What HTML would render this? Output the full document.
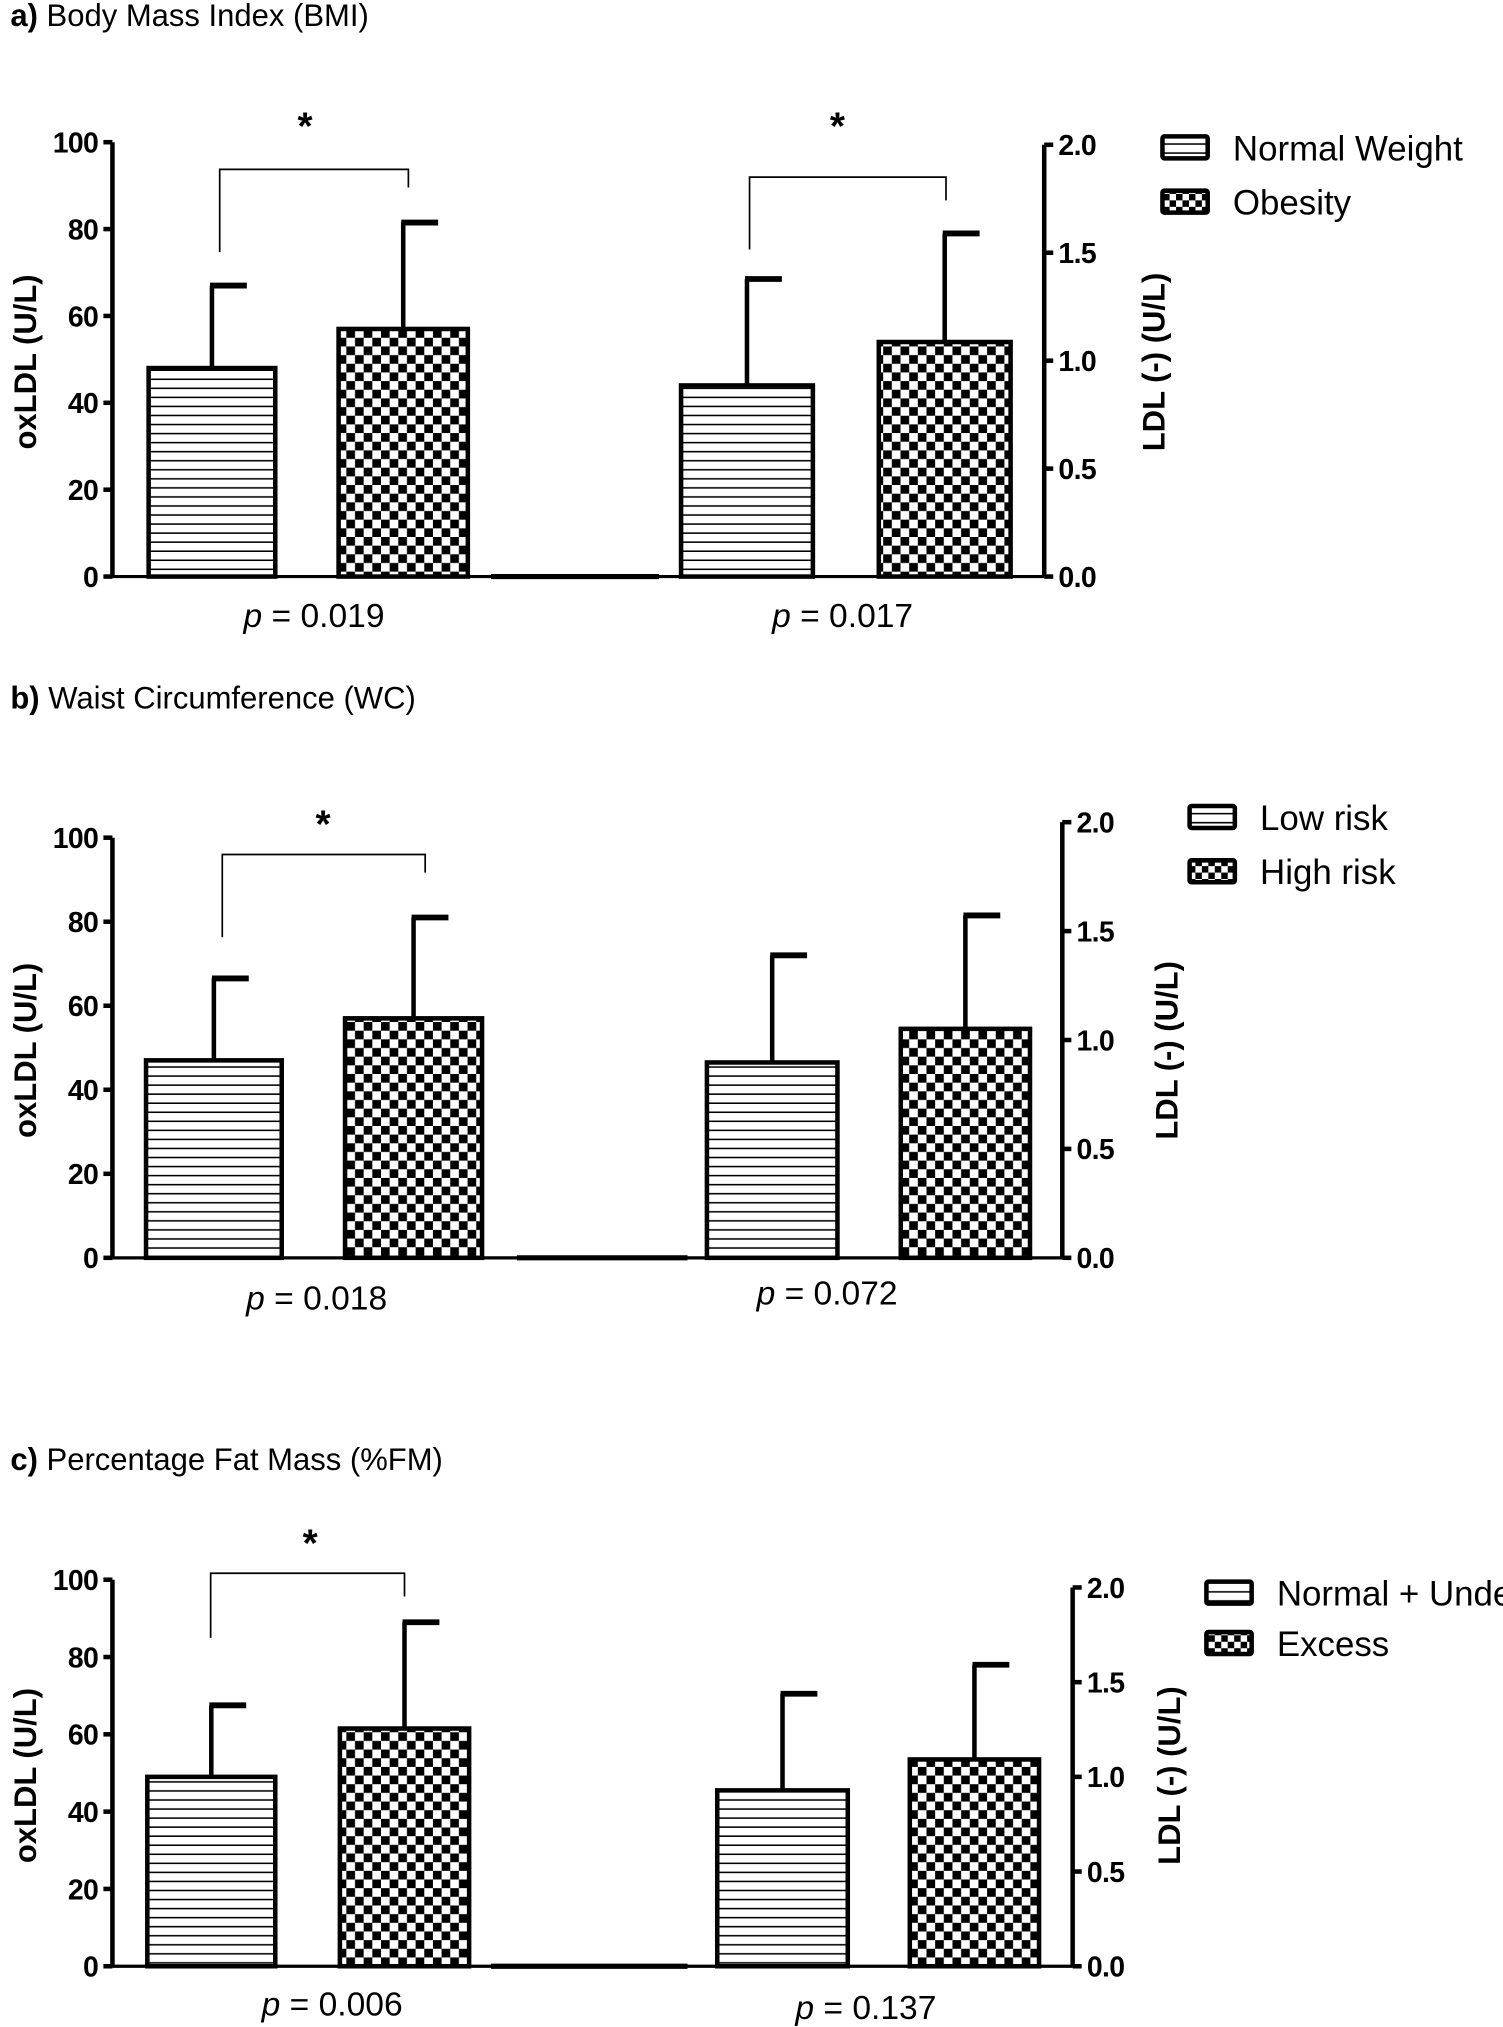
<!DOCTYPE html>
<html><head><meta charset="utf-8"><style>
html,body{margin:0;padding:0;background:#fff}
svg{display:block}
text{font-family:"Liberation Sans",Arial,sans-serif;fill:#000}
</style></head><body>
<svg id="fig" width="1503" height="2027" viewBox="0 0 1163 1568" preserveAspectRatio="none" xmlns="http://www.w3.org/2000/svg">
<defs>
<pattern id="stripes" patternUnits="userSpaceOnUse" width="8" height="7"><rect width="8" height="7" fill="#fff"/><rect y="5.8" width="8" height="1.2" fill="#000"/></pattern>
<pattern id="checks" patternUnits="userSpaceOnUse" width="13.4" height="13.4"><rect width="13.4" height="13.4" fill="#fff"/><rect width="6.7" height="6.7" fill="#000"/><rect x="6.7" y="6.7" width="6.7" height="6.7" fill="#000"/></pattern>
<pattern id="checksL" patternUnits="userSpaceOnUse" width="10" height="10"><rect width="10" height="10" fill="#fff"/><rect width="5" height="5" fill="#000"/><rect x="5" y="5" width="5" height="5" fill="#000"/></pattern>
</defs>
</svg>
<script>
// Panel data (oxLDL scale 0-100; right axis LDL(-) 0-2.0)
const titlesBold = ['a)', 'b)', 'c)'];
const titlesText = ['Body Mass Index (BMI)', 'Waist Circumference (WC)', 'Percentage Fat Mass (%FM)'];
const legendA = ['Normal Weight', 'Low risk', 'Normal + Under'];
const legendB = ['Obesity', 'High risk', 'Excess'];
const pLabels = [['0.019', '0.017'], ['0.018', '0.072'], ['0.006', '0.137']];
const meansA = [[48, 57], [47, 57], [49, 61.5]];
const meansB = [[44, 54], [46.5, 54.5], [45.5, 53.5]];
const errTopsA = [[67, 81.5], [66.5, 81], [67.5, 89]];
const errTopsB = [[68.5, 79], [72, 81.5], [70.5, 78]];
const sigA = [true, true, true];
const sigB = [true, false, false];
const leftTicks = [0, 20, 40, 60, 80, 100];
const rightTicks = [0.0, 0.5, 1.0, 1.5, 2.0];

// layout (not data)
const L = [
 {title:12, ax:87, y100:110, y0:446, rx:808, r2:112, bars:[[115,213],[262,362],[527,629],[680,782]], mid:[380,510],
  br:[{x1:170,x2:316,top:131,l:195,r:145,sx:236,sy:108},{x1:580,x2:732,top:137,l:193,r:155,sx:648,sy:108}],
  leg:[898,114,156], p:[[243,476],[652,476]], lab:[20,893]},
 {title:540, ax:87, y100:648, y0:973, rx:822, r2:636, bars:[[113,218],[267,373],[547,648],[697,797]], mid:[400,532],
  br:[{x1:172,x2:329,top:661,l:725,r:675,sx:250,sy:648}],
  leg:[919,632,674], p:[[245,1004],[640,1000]], lab:[20,903]},
 {title:1129, ax:87, y100:1222, y0:1521, rx:830, r2:1228, bars:[[114,213],[263,363],[555,656],[704,804]], mid:[380,532],
  br:[{x1:163,x2:313,top:1217,l:1267,r:1235,sx:240,sy:1204}],
  leg:[932,1232,1271], p:[[257,1550],[670,1553]], lab:[20,905]}
];

const svg = document.getElementById('fig');
const NS = 'http://www.w3.org/2000/svg';
function mk(tag, attrs, parent){const e=document.createElementNS(NS,tag);for(const k in attrs)e.setAttribute(k,attrs[k]);(parent||svg).appendChild(e);return e;}

L.forEach((g, i) => {
  const grp = mk('g', {});
  
  
  const yL = v => g.y0 - (v / 100) * (g.y0 - g.y100);
  const yR = v => g.y0 - (v / 2) * (g.y0 - g.r2);

  const t = mk('text', {x:8, y:g.title+8, 'font-size':24}, grp);
  
  
  const tb = mk('tspan', {'font-weight':'bold'}, t); tb.textContent = titlesBold[i] + ' ';
  const tt = mk('tspan', {}, t); tt.textContent = titlesText[i];

  const la = mk('line', {x1:g.ax, y1:g.y100, x2:g.ax, y2:g.y0, stroke:'#000', 'stroke-width':3.5}, grp);
  
  
  leftTicks.forEach(v => {
    mk('line', {x1:g.ax-7, y1:yL(v), x2:g.ax, y2:yL(v), stroke:'#000', 'stroke-width':3.5}, grp);
    const tl = mk('text', {x:g.ax-11, y:yL(v)+8, 'font-size':22, 'font-weight':'bold', 'text-anchor':'end', 'letter-spacing':-0.5}, grp);
    
    
    tl.textContent = v;
  });
  const ra = mk('line', {x1:g.rx, y1:g.r2, x2:g.rx, y2:g.y0, stroke:'#000', 'stroke-width':3.5}, grp);
  
  
  rightTicks.forEach(v => {
    mk('line', {x1:g.rx, y1:yR(v), x2:g.rx+7, y2:yR(v), stroke:'#000', 'stroke-width':3.5}, grp);
    const tr = mk('text', {x:g.rx+11, y:yR(v)+8, 'font-size':22, 'font-weight':'bold', 'letter-spacing':-0.5}, grp);
    
    
    tr.textContent = v.toFixed(1);
  });
  const bl = mk('line', {x1:g.ax, y1:g.y0, x2:g.rx, y2:g.y0, stroke:'#000', 'stroke-width':2.5}, grp);
  
  
  mk('line', {x1:g.mid[0], y1:g.y0, x2:g.mid[1], y2:g.y0, stroke:'#000', 'stroke-width':4}, grp);

  const mY = (g.y100 + g.y0) / 2 + 2;
  const yt = mk('text', {x:g.lab[0], y:mY, 'font-size':24, 'font-weight':'bold', 'text-anchor':'middle', transform:`rotate(-90 ${g.lab[0]} ${mY})`, dy:8}, grp);
  
  
  yt.textContent = 'oxLDL (U/L)';
  const yt2 = mk('text', {x:g.lab[1], y:mY, 'font-size':24, 'font-weight':'bold', 'text-anchor':'middle', transform:`rotate(-90 ${g.lab[1]} ${mY})`, dy:8}, grp);
  
  
  yt2.textContent = 'LDL (-) (U/L)';

  const vals = [meansA[i][0], meansA[i][1], meansB[i][0], meansB[i][1]];
  const tops = [errTopsA[i][0], errTopsA[i][1], errTopsB[i][0], errTopsB[i][1]];
  vals.forEach((v, j) => {
    const [x1, x2] = g.bars[j];
    const cx = (x1 + x2) / 2;
    const el = mk('line', {x1:cx, y1:yL(v), x2:cx, y2:yL(tops[j]), stroke:'#000', 'stroke-width':3.5}, grp);
    
    
    mk('line', {x1:cx-1.5, y1:yL(tops[j]), x2:cx+27, y2:yL(tops[j]), stroke:'#000', 'stroke-width':4.5}, grp);
    const r = mk('rect', {x:x1, y:yL(v), width:x2-x1, height:g.y0-yL(v), fill: j % 2 ? 'url(#checks)' : 'url(#stripes)', stroke:'#000', 'stroke-width':3.5}, grp);
    
    
  });

  const sigs = [sigA[i], sigB[i]];
  let bi = 0;
  sigs.forEach((s) => {
    if (!s) return;
    const b = g.br[bi++];
    const br = mk('polyline', {points:`${b.x1},${b.l} ${b.x1},${b.top} ${b.x2},${b.top} ${b.x2},${b.r}`, fill:'none', stroke:'#000', 'stroke-width':1.3}, grp);
    
    
    const st = mk('text', {x:b.sx, y:b.sy, 'font-size':30, 'font-weight':'bold', 'text-anchor':'middle'}, grp);
    
    
    st.textContent = '*';
  });

  pLabels[i].forEach((pv, k) => {
    const pt = mk('text', {x:g.p[k][0], y:g.p[k][1]+9, 'font-size':26, 'text-anchor':'middle'}, grp);
    
    
    const pi = mk('tspan', {'font-style':'italic'}, pt); pi.textContent = 'p';
    const pr = mk('tspan', {}, pt); pr.textContent = ' = ' + pv;
  });

  [[legendA[i], 'url(#stripes)', g.leg[1]], [legendB[i], 'url(#checksL)', g.leg[2]]].forEach(([lab, fill, y], k) => {
    const lg = mk('g', {}, grp);
    
    
    mk('rect', {x:g.leg[0]+1.5, y:y-8.5, width:35, height:17, fill:fill, stroke:'#000', 'stroke-width':3.5, rx:1.5}, lg);
    const lt = mk('text', {x:g.leg[0]+56, y:y+10, 'font-size':27}, lg);
    lt.textContent = lab;
  });
});
</script>
</body></html>
